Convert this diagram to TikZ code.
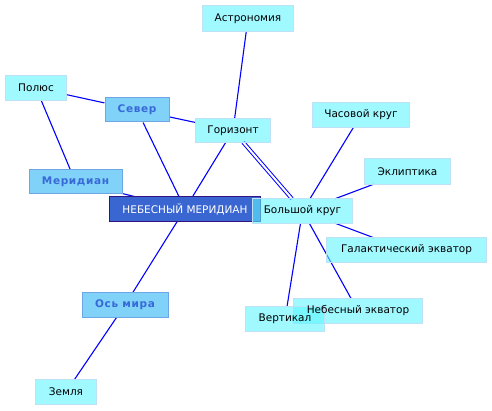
\documentclass[tikz,border=0pt]{standalone}
\usepackage{fontspec}
\setmainfont{DejaVu Sans}
\usetikzlibrary{backgrounds}
\pgfdeclarelayer{boxes}
\pgfsetlayers{background,boxes,main}
\definecolor{lcyan}{RGB}{95,245,255}
\definecolor{lcyanb}{RGB}{190,225,245}
\definecolor{mblue}{RGB}{128,210,248}
\definecolor{mblueb}{RGB}{110,165,230}
\definecolor{mtext}{RGB}{55,105,215}
\definecolor{mainfill}{RGB}{58,102,210}
\definecolor{mainborder}{RGB}{50,20,130}
\tikzset{
  leaf/.style={minimum height=24pt, inner sep=0pt, font=\fontsize{10.5}{12}\selectfont},
  leafbox/.style={draw=lcyanb, line width=1pt, fill=lcyan, fill opacity=0.6},
  mid/.style={draw=mblueb, line width=1pt, fill=mblue, text=mtext,
    minimum height=24pt, inner sep=0pt, font=\fontsize{10.5}{12}\selectfont\bfseries\addfontfeatures{LetterSpace=6}},
  root/.style={minimum height=24pt, inner sep=0pt, text=white, font=\fontsize{10.5}{12}\selectfont},
  rootbox/.style={draw=mainborder, line width=1pt, fill=mainfill},
  link/.style={draw=blue, line width=1.1pt},
}
\begin{document}
\begin{tikzpicture}[x=1pt,y=-1pt]
\useasboundingbox (0,0) rectangle (492,411);
\node[root, minimum width=150pt] (main) at (185,209) {НЕБЕСНЫЙ МЕРИДИАН};
\node[leaf, minimum width=90pt, minimum height=25pt] (astr) at (248,18.5) {Астрономия};
\node[leaf, minimum width=60pt] (pol) at (36,88) {Полюс};
\node[mid, minimum width=64pt] (sev) at (137,110) {Север};
\node[leaf, minimum width=74pt, minimum height=23pt] (gor) at (233,130.5) {Горизонт};
\node[leaf, minimum width=96pt] (chas) at (361,115) {Часовой круг};
\node[leaf, minimum width=85pt, minimum height=25pt] (ekl) at (407.5,171.5) {Эклиптика};
\node[mid, minimum width=93pt] (mer) at (75.5,182) {Меридиан};
\node[leaf, minimum width=99pt] (bk) at (302.5,211) {Большой круг};
\node[leaf, minimum width=159pt] (gal) at (406.5,250) {Галактический экватор};
\node[mid, minimum width=86pt] (os) at (125,305) {Ось мира};
\node[leaf, minimum width=128pt] (neb) at (358,311) {Небесный экватор};
\node[leaf, minimum width=78pt] (vert) at (285,319) {Вертикал};
\node[leaf, minimum width=60pt] (zem) at (66,392) {Земля};
\begin{pgfonlayer}{boxes}
\draw[rootbox] (main.south west) rectangle (main.north east);
\foreach \n in {astr,pol,gor,chas,ekl,bk,gal,neb,vert,zem}
  \draw[leafbox] (\n.south west) rectangle (\n.north east);
\end{pgfonlayer}
\begin{scope}[on background layer]
\draw[link] (pol) -- (sev);
\draw[link] (pol) -- (mer);
\draw[link] (sev) -- (gor);
\draw[link] (sev) -- (main);
\draw[link] (mer) -- (main);
\draw[link] (astr) -- (gor);
\draw[link] (gor) -- (main);
\draw[draw=blue, line width=1pt, double=white, double distance=2pt] (gor) -- (bk);
\draw[link] (chas) -- (bk);
\draw[link] (ekl) -- (bk);
\draw[link] (gal) -- (bk);
\draw[link] (vert) -- (bk);
\draw[link] (neb) -- (bk);
\draw[link] (main) -- (os);
\draw[link] (os) -- (zem);
\end{scope}
\end{tikzpicture}
\end{document}
